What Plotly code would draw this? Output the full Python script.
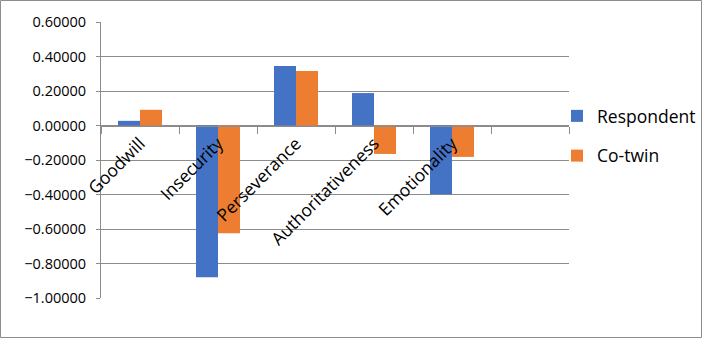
import plotly.graph_objects as go

# Trait scores for each category, one list per twin
categories = ["Goodwill", "Insecurity", "Perseverance", "Authoritativeness", "Emotionality"]
respondent = [0.027, -0.880, 0.345, 0.188, -0.398]
co_twin = [0.091, -0.624, 0.316, -0.165, -0.182]
y_ticks = [0.6, 0.4, 0.2, 0.0, -0.2, -0.4, -0.6, -0.8, -1.0]

FONT = "Open Sans"
GRID = "#8c8c8c"

W, H = 703, 339
ML, MR, MT, MB = 101, 134, 22, 41
PW, PH = W - ML - MR, H - MT - MB

y_min, y_max = -1.0, 0.6
zero_pos = (0 - y_min) / (y_max - y_min)

fig = go.Figure()
fig.add_trace(go.Bar(name="Respondent", x=categories, y=respondent,
                     marker=dict(color="#4472C4", line=dict(width=0)),
                     legendgroup="a"))
fig.add_trace(go.Bar(name="Co-twin", x=categories, y=co_twin,
                     marker=dict(color="#ED7D31", line=dict(width=0)),
                     legendgroup="b"))

fig.update_layout(
    width=W, height=H,
    margin=dict(l=ML, r=MR, t=MT, b=MB, pad=0, autoexpand=False),
    paper_bgcolor="white", plot_bgcolor="white",
    font=dict(family=FONT, color="#000000"),
    barmode="group", bargap=0.436, bargroupgap=0,
    showlegend=True,
    legend=dict(
        x=(557 - ML) / PW, xanchor="left",
        y=1 - (136 - MT) / PH, yanchor="middle",
        font=dict(family=FONT, size=17.5, color="#000000"),
        traceorder="grouped", tracegroupgap=14,
        bgcolor="rgba(0,0,0,0)",
    ),
    xaxis=dict(
        type="category",
        categoryorder="array", categoryarray=categories + [" "],
        range=[-0.5, len(categories) + 0.5],
        anchor="free", position=zero_pos,
        showline=True, linecolor=GRID, linewidth=1,
        ticks="outside", ticklen=7, tickcolor=GRID, tickwidth=1,
        tickson="boundaries",
        tickangle=-45,
        tickfont=dict(family=FONT, size=17.5, color="#000000"),
        showgrid=False, zeroline=False,
        automargin=False,
    ),
    yaxis=dict(
        range=[y_min, y_max],
        tickvals=y_ticks, tickformat=".5f",
        showgrid=True, gridcolor=GRID, gridwidth=1,
        showline=True, linecolor=GRID, linewidth=1,
        ticks="outside", ticklen=4, tickcolor=GRID,
        ticklabelstandoff=7,
        zeroline=False,
        automargin=False,
        tickfont=dict(family=FONT, size=14.5, color="#000000"),
    ),
    shapes=[dict(
        type="rect", xref="paper", yref="paper",
        x0=(0.5 - ML) / PW, x1=(W - 1.5 - ML) / PW,
        y0=1 - (H - 1.5 - MT) / PH, y1=1 - (0.5 - MT) / PH,
        line=dict(color=GRID, width=1), fillcolor="rgba(0,0,0,0)",
        layer="below",
    )],
)

fig.write_html("out.html")
